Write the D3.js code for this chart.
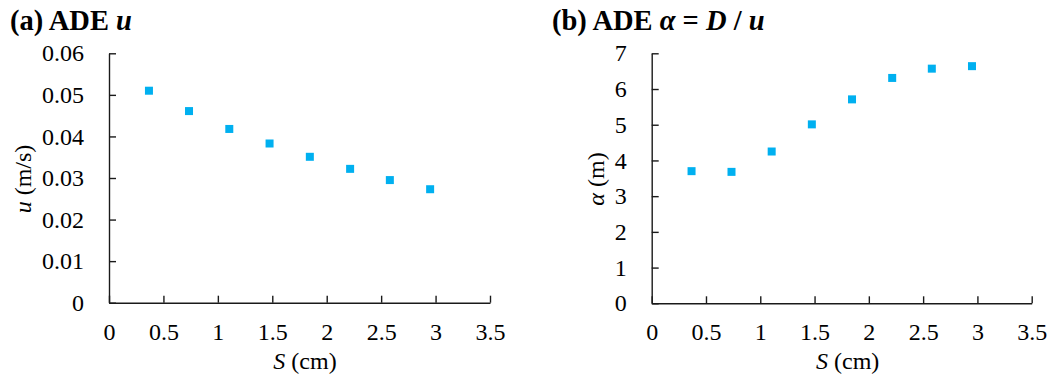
<!DOCTYPE html>
<html><head><meta charset="utf-8">
<script src="https://cdn.jsdelivr.net/npm/d3@7"></script>
<style>
body{margin:0;background:#fff;}
svg text{font-family:"Liberation Serif","Times New Roman",Times,serif;fill:#000;}
</style></head>
<body><svg id="c" width="1051" height="378"></svg>
<script>
const sValues = [0.367, 0.735, 1.105, 1.475, 1.845, 2.215, 2.58, 2.95];
const uValues = [0.0510, 0.0461, 0.0418, 0.0383, 0.0351, 0.0322, 0.0295, 0.0273];
const alphaValues = [3.70, 3.68, 4.25, 5.01, 5.71, 6.31, 6.57, 6.64];
const xTicks = [0, 0.5, 1, 1.5, 2, 2.5, 3, 3.5];
const uTicks = [0, 0.01, 0.02, 0.03, 0.04, 0.05, 0.06];
const alphaTicks = [0, 1, 2, 3, 4, 5, 6, 7];

const svg = d3.select("#c");
const color = "#00B0F0";
const fs = 24;

function panel(o){
  const x = d3.scaleLinear().domain([0,3.5]).range([o.x0, o.x1]);
  const y = d3.scaleLinear().domain([0,o.ymax]).range([o.y0, o.y1]);
  const g = svg.append("g");
  const xa = g.append("g").attr("transform",`translate(0,${o.y0})`)
    .call(d3.axisBottom(x).tickValues(xTicks).tickSizeInner(-7).tickSizeOuter(0)
      .tickPadding(20).tickFormat(d=>String(d)));
  const ya = g.append("g").attr("transform",`translate(${o.x0},0)`)
    .call(d3.axisLeft(y).tickValues(o.yTicks).tickSizeInner(-7).tickSizeOuter(0)
      .tickPadding(25).tickFormat(o.yfmt));
  [xa,ya].forEach(a=>{
    a.attr("font-family",null).attr("font-size",null);
    a.selectAll("path.domain").attr("stroke","#1a1a1a").attr("stroke-width",1.4);
    a.selectAll(".tick line").attr("stroke","#1a1a1a").attr("stroke-width",1.4);
    a.selectAll("text").attr("font-size",fs).attr("fill","#000");
  });
  g.selectAll("rect.pt").data(sValues.map((s,i)=>[s,o.vals[i]])).enter().append("rect")
    .attr("x",d=>x(d[0])-4).attr("y",d=>y(d[1])-4).attr("width",8).attr("height",8)
    .attr("fill",color);
  const xt = g.append("text").attr("x",o.x0+196).attr("y",369)
    .attr("text-anchor","middle").attr("font-size",fs);
  xt.append("tspan").attr("font-style","italic").text("S");
  xt.append("tspan").text(" (cm)");
  const yt = g.append("text").attr("transform",`translate(${o.ytx},179) rotate(-90)`)
    .attr("text-anchor","middle").attr("font-size",fs);
  o.ytitle(yt);
  const t = g.append("text").attr("x",o.tx).attr("y",30).attr("font-size",28.5).attr("font-weight","bold");
  o.title(t);
}

panel({x0:109, x1:490, y0:302.7, y1:53.3, ymax:0.06, vals:uValues, yTicks:uTicks,
  yfmt:d=>d===0?"0":d3.format(".2f")(d), ytx:31,
  ytitle:t=>{t.append("tspan").attr("font-style","italic").text("u");t.append("tspan").text(" (m/s)");},
  tx:10,
  title:t=>{t.append("tspan").text("(a) ADE ");t.append("tspan").attr("font-style","italic").text("u");}
});
panel({x0:651.7, x1:1031.7, y0:303.3, y1:53.3, ymax:7, vals:alphaValues, yTicks:alphaTicks,
  yfmt:d=>String(d), ytx:604,
  ytitle:t=>{t.append("tspan").attr("font-style","italic").text("α");t.append("tspan").text(" (m)");},
  tx:552,
  title:t=>{t.append("tspan").text("(b) ADE ");t.append("tspan").attr("font-style","italic").text("α");
    t.append("tspan").text(" = ");t.append("tspan").attr("font-style","italic").text("D");
    t.append("tspan").text(" / ");t.append("tspan").attr("font-style","italic").text("u");}
});
</script></body></html>
